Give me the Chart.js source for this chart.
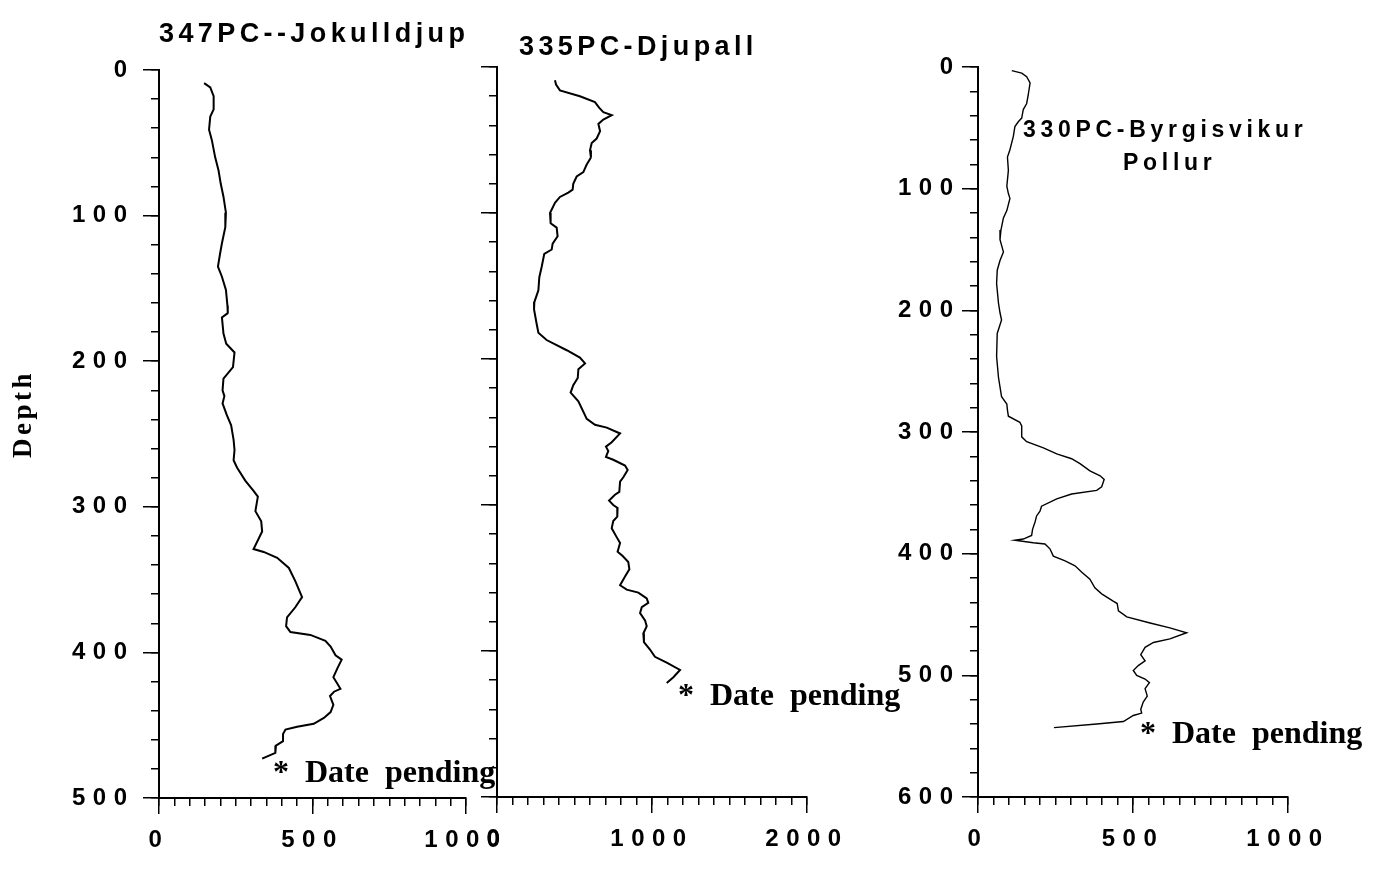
<!DOCTYPE html>
<html><head><meta charset="utf-8">
<script src="https://cdn.jsdelivr.net/npm/chart.js@4.4.1/dist/chart.umd.min.js"></script>
<style>
html,body{margin:0;padding:0;background:#fff;width:1391px;height:870px;overflow:hidden}
canvas{position:absolute;left:0;top:0}
</style></head><body>
<canvas id="c1" width="1391" height="870"></canvas>
<canvas id="c2" width="1391" height="870"></canvas>
<canvas id="c3" width="1391" height="870"></canvas>
<script>
// ---- Core 347PC (Jokulldjup) ----
const depth347 = [9,12,18,27,32,41,48,60,69,78,87,98,108,119,126,135,142,151,162,167,170,181,188,194,204,212,220,224,229,237,244,254,261,268,273,282,289,293,303,310,317,329,331,335,342,351,362,369,376,382,386,388,392,396,402,405,411,417,425,427,430,436,441,445,449,451,453,456,461,464,469,473];
const value347 = [147,167,178,178,167,163,172,183,194,201,210,218,216,205,199,192,205,218,223,224,205,210,219,246,241,210,207,213,207,221,235,243,246,243,254,281,308,322,314,333,336,308,341,385,423,444,466,444,417,414,428,493,542,559,575,595,581,568,591,570,557,568,559,537,504,450,412,404,404,381,379,336];
// ---- Core 335PC (Djupall) ----
const depth335 = [9,12,16,20,24,28,31,33,36,39,44,49,52,57,62,67,72,75,80,84,86,89,93,100,107,110,116,121,125,128,137,144,153,161,166,176,182,187,194,199,203,207,213,218,223,229,241,245,247,251,257,260,263,267,269,273,276,281,284,291,293,297,300,302,308,311,316,322,326,332,335,339,344,349,355,358,360,364,367,370,374,379,383,388,394,399,404,408,413,418,422];
const value335 = [374,381,406,535,632,660,686,740,686,654,665,643,611,600,606,578,557,514,492,488,460,406,374,342,346,385,391,359,353,305,288,273,267,241,239,256,267,320,450,535,568,525,521,492,475,525,579,632,708,794,740,703,718,703,750,826,843,815,794,789,761,723,750,778,776,750,740,772,794,778,811,847,854,826,794,837,912,966,976,934,923,955,966,944,948,987,1019,1095,1181,1138,1095];
// ---- Core 330PC (Byrgisvikur Pollur) ----
const depth330 = [3,5,8,13,23,30,35,42,45,49,57,68,74,85,98,104,108,118,124,134,142,152,159,167,178,194,202,208,219,238,255,271,277,282,287,292,295,304,308,313,318,322,326,332,336,339,345,348,351,355,361,365,369,374,380,385,388,389,391,392,396,402,406,410,415,421,428,433,439,441,447,452,457,461,465,470,473,477,483,488,492,496,500,503,506,511,517,522,528,531,533,538,540,543];
const value330 = [109,141,157,168,162,157,146,141,130,119,114,103,95,98,93,98,103,93,82,74,71,82,71,62,60,66,71,76,62,60,66,76,93,95,98,135,141,141,157,211,254,302,329,361,394,407,399,383,302,254,205,200,189,184,176,173,146,119,178,216,232,243,281,313,334,361,377,399,436,449,453,480,555,619,673,619,566,539,525,539,517,501,512,539,553,539,546,533,525,528,501,469,383,245];

// tick labels
const yLabels347 = [0,100,200,300,400,500];
const xLabels347 = [0,500,1000];
const yLabels335 = [];
const xLabels335 = [0,1000,2000];
const yLabels330 = [0,100,200,300,400,500,600];
const xLabels330 = [0,500,1000];

const TICK_FONT = {family:'Liberation Sans', weight:'bold', size:24};
const YW = 120, XH = 60;

function axis(o){
  return {
    type:'linear', min:o.min, max:o.max, reverse:!!o.reverse, position:o.position,
    weight:o.weight||0,
    afterFit: o.horizontal ? (s=>{s.height=o.size;}) : (s=>{s.width=o.size;}),
    grid:{display:true, drawOnChartArea:false, drawTicks:true, tickLength:o.tl, tickColor:'#000', tickWidth:1.5, color:'#000', lineWidth:1.5},
    border:{display:o.border, color:'#000', width:2},
    ticks:{stepSize:o.step, maxTicksLimit:1000, autoSkip:false, padding:o.pad||3, color:'#000', font:TICK_FONT,
      maxRotation:0, minRotation:0,
      callback: v => (o.labels && o.labels.includes(v)) ? String(v) : ''}
  };
}

const spacingPlugin = {id:'spacing', beforeDraw(chart){ chart.ctx.letterSpacing = '7.5px'; }};

function textPlugin(items){
  return {id:'texts', afterDraw(chart){
    const ctx = chart.ctx;
    items.forEach(it=>{
      ctx.save();
      ctx.letterSpacing = (it.sp||0)+'px';
      ctx.font = it.font; ctx.fillStyle='#000';
      ctx.textAlign = it.align||'left'; ctx.textBaseline = it.base||'alphabetic';
      ctx.translate(it.x, it.y);
      if (it.rot) ctx.rotate(it.rot);
      ctx.fillText(it.t, 0, 0);
      ctx.restore();
    });
  }};
}

function panel(id, p){
  const pts = p.depth.map((d,i)=>({x:p.values[i], y:d}));
  return new Chart(document.getElementById(id), {
    type:'line',
    data:{datasets:[{data:pts, borderColor:'#000', borderWidth:p.lw, pointRadius:0, tension:0, fill:false}]},
    options:{
      responsive:false, animation:false, events:[],
      plugins:{legend:{display:false}, tooltip:{enabled:false}, title:{display:false}},
      layout:{padding:{left:p.area[0]-YW, top:p.area[1], right:1391-p.area[2], bottom:870-p.area[3]-XH}},
      scales:{
        x: axis({min:0, max:p.xMax, position:'bottom', horizontal:true, tl:8, step:p.xMinor, border:false, size:0, weight:0}),
        x2: axis({min:0, max:p.xMax, position:'bottom', horizontal:true, tl:16, step:p.xMajor, border:true, labels:p.xLabels, pad:12, size:XH, weight:1}),
        y: axis({min:0, max:p.yMax, reverse:true, position:'left', tl:8, step:20, border:false, size:0, weight:0}),
        y2: axis({min:0, max:p.yMax, reverse:true, position:'left', tl:16, step:100, border:true, labels:p.yLabels, pad:p.ypad, size:YW, weight:1})
      }
    },
    plugins:[spacingPlugin].concat(p.texts ? [textPlugin(p.texts)] : [])
  });
}

const SERIF = 'bold 32px "Liberation Serif"';
const TITLE = 'bold 27px "Liberation Sans"';
const TITLE3 = 'bold 23px "Liberation Sans"';

panel('c1', {depth:depth347, values:value347, lw:2, area:[159,70,466,798], xMax:1000, xMinor:50, xMajor:500, yMax:500,
  xLabels:xLabels347, yLabels:yLabels347, ypad:8.5,
  texts:[
    {t:'347PC--Jokulldjup', x:159, y:42, font:TITLE, sp:4.4},
    {t:'Depth', x:31, y:414, font:'bold 27px "Liberation Serif"', sp:3.5, align:'center', rot:-Math.PI/2},
    {t:'*  Date  pending', x:273, y:782, font:SERIF}
  ]});
panel('c2', {depth:depth335, values:value335, lw:2, area:[497,67,807,797], xMax:2000, xMinor:100, xMajor:1000, yMax:500,
  xLabels:xLabels335, yLabels:yLabels335, ypad:8.5,
  texts:[
    {t:'335PC-Djupall', x:519, y:55, font:TITLE, sp:4.4},
    {t:'*  Date  pending', x:678, y:705, font:SERIF}
  ]});
panel('c3', {depth:depth330, values:value330, lw:1.4, area:[978,67,1288,797], xMax:1000, xMinor:50, xMajor:500, yMax:600,
  xLabels:xLabels330, yLabels:yLabels330, ypad:1.5,
  texts:[
    {t:'330PC-Byrgisvikur', x:1023, y:137, font:TITLE3, sp:4.7},
    {t:'Pollur', x:1123, y:170, font:TITLE3, sp:4.7},
    {t:'*  Date  pending', x:1140, y:743, font:SERIF}
  ]});
</script>
</body></html>
